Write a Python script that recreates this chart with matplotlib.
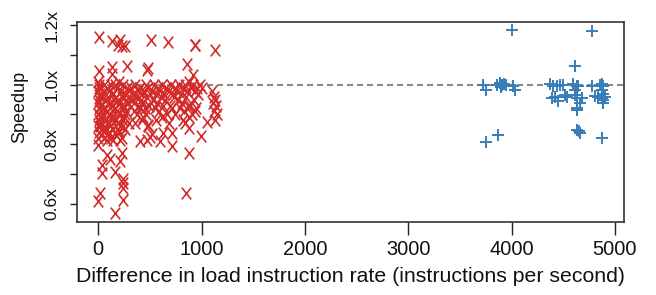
import matplotlib
matplotlib.use("Agg")
import matplotlib.pyplot as plt
from matplotlib.path import Path

plt.rcParams['font.family'] = ['Liberation Sans', 'DejaVu Sans']

# ---- data: difference in load instruction rate vs speedup ----
red_diff = [
    # upper outliers
    7, 136, 210, 226, 258, 194, 510, 672, 936, 940, 1130,
    484, 862, 920, 7, 136, 136, 275, 468,
    # x ~ 0-40
    0, 5, 10, 0, 15, 20, 5, 0, 25, 10, 30, 0, 15, 5, 20, 0, 35, 10, 25, 0, 40, 15,
    # x ~ 50-150
    60, 80, 100, 120, 140, 70, 90, 110, 130, 150, 60, 85, 105, 125, 145, 75, 95, 115, 135, 65, 100, 140, 80, 120,
    # x ~ 160-300
    160, 180, 200, 220, 240, 260, 280, 300, 170, 190, 210, 230, 250, 270, 290, 165, 185, 205, 225, 245, 265,
    175, 195, 215, 235, 255, 200, 240,
    # x ~ 300-500
    320, 340, 360, 380, 400, 420, 440, 460, 480, 500, 330, 350, 370, 390, 410, 430, 450, 470, 490,
    345, 375, 405, 435, 465, 360, 420, 480,
    # x ~ 500-750
    520, 540, 560, 580, 600, 620, 640, 660, 680, 700, 720, 740, 530, 570, 610, 650, 690, 730,
    550, 590, 630, 670, 710, 560, 620, 680, 740,
    # x ~ 750-1000
    760, 780, 800, 820, 840, 860, 880, 900, 920, 940, 960, 980, 1000, 770, 810, 850, 890, 930, 970,
    790, 830, 870, 910, 950, 820, 880, 940,
    # x ~ 1050-1150
    1100, 1120, 1130, 1110, 1140, 1120, 1150, 1130,
    # lower scatter
    0, 81, 113, 33, 33, 226, 210, 162, 242, 242, 242, 16, 0, 242, 162, 404, 81, 145, 210,
    484, 468, 597, 629, 710, 710, 839, 881, 994, 1049, 878, 846, 500, 520,
    # extra points in the lower-left dense band
    20, 55, 170, 260, 300, 45, 190, 230,
]
red_speedup = [
    1.162, 1.146, 1.151, 1.129, 1.129, 1.134, 1.151, 1.143, 1.132, 1.134, 1.118,
    1.056, 1.070, 1.034, 1.045, 1.058, 1.036, 1.062, 1.050,
    1.01, 1.00, 0.99, 0.98, 0.97, 0.96, 0.95, 0.94, 0.93, 0.92, 0.91, 0.90, 0.89, 0.88, 0.87, 0.86, 0.85, 0.84,
    0.83, 0.82, 0.96, 0.93,
    1.00, 0.99, 0.98, 1.00, 0.97, 0.95, 0.96, 0.94, 0.93, 0.95, 0.92, 0.91, 0.90, 0.89, 0.91, 0.88, 0.87, 0.86,
    0.88, 0.85, 0.84, 0.85, 0.83, 0.82,
    1.00, 0.99, 1.01, 0.98, 1.00, 0.97, 0.99, 0.98, 0.96, 0.95, 0.94, 0.96, 0.93, 0.95, 0.94, 0.92, 0.91, 0.90,
    0.92, 0.89, 0.91, 0.88, 0.87, 0.86, 0.88, 0.90, 0.84, 0.86,
    0.99, 0.97, 1.00, 0.98, 0.99, 0.97, 0.98, 1.00, 0.99, 0.97, 0.95, 0.94, 0.96, 0.93, 0.95, 0.94, 0.92, 0.96,
    0.93, 0.91, 0.90, 0.92, 0.89, 0.90, 0.87, 0.88, 0.86,
    0.98, 1.00, 0.97, 0.99, 0.98, 1.00, 0.97, 0.99, 0.98, 1.00, 0.97, 0.99, 0.95, 0.94, 0.96, 0.95, 0.93, 0.96,
    0.92, 0.91, 0.93, 0.90, 0.92, 0.88, 0.89, 0.87, 0.90,
    0.98, 1.00, 0.97, 0.99, 1.00, 0.98, 1.01, 0.99, 1.00, 0.98, 0.99, 1.00, 0.99, 0.95, 0.94, 0.96, 0.93, 0.95,
    0.97, 0.92, 0.91, 0.93, 0.90, 0.92, 0.88, 0.89, 0.91,
    0.98, 0.96, 0.95, 0.94, 0.93, 0.91, 0.90, 0.88,
    0.798, 0.765, 0.750, 0.731, 0.703, 0.770, 0.742, 0.705, 0.683, 0.670, 0.653, 0.636, 0.608, 0.611, 0.569,
    0.809, 0.815, 0.815, 0.815,
    0.866, 0.815, 0.809, 0.838, 0.838, 0.793, 0.871, 0.854, 0.829, 0.873, 0.770, 0.634, 0.825, 0.835,
    0.86, 0.84, 0.83, 0.85, 0.87, 0.89, 0.85, 0.82,
]

blue_diff = [
    4008, 4782, 4614, 3721, 3753, 3860, 3890, 3910, 3930, 3950, 3900, 4017, 4034, 3750, 3866, 4631, 4663, 4879,
    4373, 4405, 4437, 4470, 4501, 4389, 4453, 4420, 4518, 4534, 4598, 4631, 4647, 4614, 4614, 4631, 4679,
    4663, 4637, 4631, 4776, 4808, 4840, 4856, 4872, 4889, 4872, 4889, 4905, 4872, 4889, 4889, 4656,
]
blue_speedup = [
    1.185, 1.182, 1.064, 1.0, 0.983, 1.0, 1.005, 1.0, 1.003, 0.998, 0.993, 0.997, 0.981, 0.806, 0.832, 0.849,
    0.838, 0.821,
    1.003, 0.997, 0.994, 0.998, 1.0, 0.955, 0.944, 0.96, 0.966, 0.959, 1.003, 0.997, 0.995, 0.983, 0.966,
    0.955, 0.955, 0.938, 0.916, 0.922, 0.997, 0.963, 0.959, 1.0, 1.002, 0.997, 0.983, 0.97, 0.96, 0.955,
    0.94, 0.95, 0.843,
]

x_ticks = [0, 1000, 2000, 3000, 4000, 5000]
y_ticks = [0.6, 0.7, 0.8, 0.9, 1.0, 1.1, 1.2]
y_tick_labels = ["0.6x", "", "0.8x", "", "1.0x", "", "1.2x"]
x_label = "Difference in load instruction rate (instructions per second)"
y_label = "Speedup"

RED = "#d42a2a"
BLUE = "#377eb8"

W, H = 656, 295
fig = plt.figure(figsize=(W / 100, H / 100), dpi=100)
L, R_, B, T = 77.3, 623.7, 221.7, 22.0
ax = fig.add_axes([L / W, 1 - B / H, (R_ - L) / W, (B - T) / H])

ax.set_xlim(-203, 5086)
ax.set_ylim(0.539, 1.211)

ax.axhline(1.0, color="#8a8a8a", lw=1.5, linestyle=(0, (2.9, 1.9)), zorder=1)

xmark = Path([(-0.8, -1), (0.8, 1), (-0.8, 1), (0.8, -1)],
             [Path.MOVETO, Path.LINETO, Path.MOVETO, Path.LINETO])
ax.plot(red_diff, red_speedup, linestyle="none", marker=xmark, markersize=8.5,
        markeredgewidth=1.2, color=RED, zorder=3)
ax.plot(blue_diff, blue_speedup, linestyle="none", marker="+", markersize=8,
        markeredgewidth=1.4, color=BLUE, zorder=3)

ax.set_xticks(x_ticks)
ax.set_xticklabels([str(v) for v in x_ticks])
ax.set_yticks(y_ticks)
ax.set_yticklabels(y_tick_labels)
ax.tick_params(axis="x", direction="out", length=9.5, width=1.0, pad=4, labelsize=14.4,
               color="#222222", labelcolor="#111111")
ax.tick_params(axis="y", direction="out", length=5, width=1.0, pad=8, labelsize=12.5,
               color="#222222", labelcolor="#111111")
for lab in ax.get_yticklabels():
    lab.set_rotation(90)
    lab.set_va("center")

for s in ax.spines.values():
    s.set_linewidth(1.2)
    s.set_color("#333333")

ax.set_xlabel(x_label, fontsize=15.3, color="#111111", labelpad=5.5)
ax.set_ylabel(y_label, fontsize=13, color="#111111")
ax.yaxis.set_label_coords((28.0 - L) / (R_ - L), (B - 107) / (B - T))

fig.savefig("out.png", dpi=100)
